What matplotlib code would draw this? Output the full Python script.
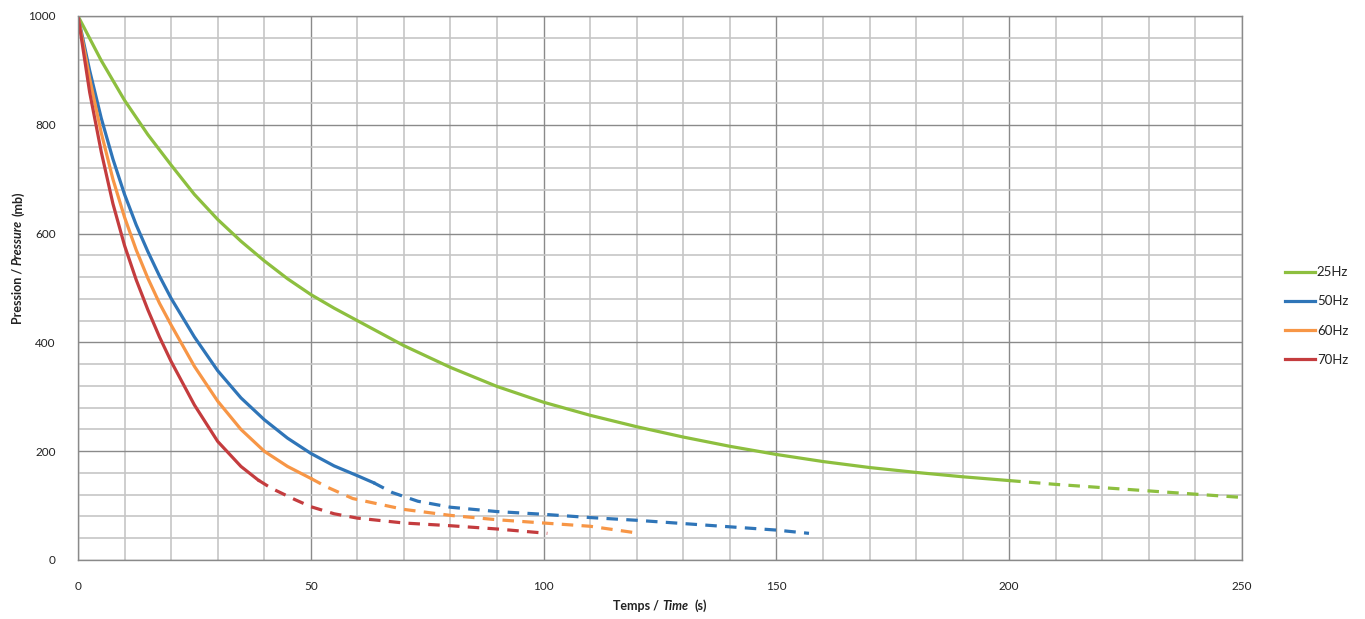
import matplotlib
matplotlib.use("Agg")
import matplotlib.pyplot as plt
from matplotlib.ticker import MultipleLocator
from matplotlib.transforms import IdentityTransform

plt.rcParams['font.family'] = ['Lato', 'DejaVu Sans']

# 25Hz : mesure (trait plein) puis extrapolation (tirets)
t_25 = [0, 5, 10, 15, 20, 25, 30, 35, 40, 45, 50, 55, 60, 70, 80, 90, 100,
        110, 120, 130, 140, 150, 160, 170, 180, 190, 200]
p_25 = [1000, 918, 845, 782, 726, 672, 626, 586, 550, 517, 488, 463, 440, 394, 354, 319, 290,
        266, 245, 226, 209, 194, 181, 170, 161, 153, 146]
t_25_ext = [200, 210, 220, 230, 240, 250]
p_25_ext = [146, 139, 133, 127, 121, 115]

# 50Hz
t_50 = [0, 2.5, 5, 7.5, 10, 12.5, 15, 17.5, 20, 25, 30, 35, 40, 45, 50, 55, 60, 63.5]
p_50 = [1000, 900, 812, 737, 672, 616, 567, 522, 481, 410, 348, 298, 258, 224, 196, 173, 155, 142]
t_50_ext = [63.5, 67.5, 73, 80, 90, 100, 110, 120, 130, 140, 150, 157]
p_50_ext = [142, 124, 108, 97, 89, 84, 78, 73, 67, 61, 55, 49]

# 60Hz
t_60 = [0, 2.5, 5, 7.5, 10, 12.5, 15, 17.5, 20, 25, 30, 35, 40, 45, 50]
p_60 = [1000, 885, 785, 700, 630, 570, 518, 472, 432, 356, 292, 240, 200, 172, 150]
t_60_ext = [50, 53.5, 59, 70, 80, 90, 100, 110, 120.6]
p_60_ext = [150, 134, 113, 93, 82, 74, 68, 62, 49]

# 70Hz
t_70 = [0, 2.5, 5, 7.5, 10, 12.5, 15, 17.5, 20, 25, 30, 35, 38.7]
p_70 = [1000, 860, 750, 655, 578, 515, 460, 410, 365, 285, 218, 172, 147]
t_70_ext = [38.7, 41.5, 46.6, 50, 55, 60, 70, 80, 90, 100.8]
p_70_ext = [147, 132, 111, 98, 85, 77, 68, 63, 57, 49]

series = [
    ("25Hz", '#8dbf3f', t_25, p_25, t_25_ext, p_25_ext),
    ("50Hz", '#2f75b8', t_50, p_50, t_50_ext, p_50_ext),
    ("60Hz", '#f79646', t_60, p_60, t_60_ext, p_60_ext),
    ("70Hz", '#c43c3e', t_70, p_70, t_70_ext, p_70_ext),
]

W, H = 1365, 619
fig = plt.figure(figsize=(W / 100, H / 100), dpi=100)
ax = fig.add_axes([78 / W, 59 / H, 1164 / W, 544 / H])

for nom, couleur, t, p, te, pe in series:
    ax.plot(t, p, color=couleur, lw=2.3, label=nom, solid_joinstyle='round')
    ax.plot(te, pe, color=couleur, lw=2.3, dashes=(3.6, 2.6))

ax.set_xlim(0, 250)
ax.set_ylim(0, 1000)
ax.xaxis.set_major_locator(MultipleLocator(50))
ax.xaxis.set_minor_locator(MultipleLocator(10))
ax.yaxis.set_major_locator(MultipleLocator(200))
ax.yaxis.set_minor_locator(MultipleLocator(40))
ax.grid(which='minor', color='#c6c6c6', lw=1.2)
ax.grid(which='major', color='#8a8a8a', lw=1.0)
ax.set_axisbelow(True)
ax.tick_params(which='both', length=0, labelsize=8.5, labelcolor='#222222')
ax.tick_params(axis='x', pad=15)
ax.tick_params(axis='y', pad=16)
for s in ax.spines.values():
    s.set_color('#8a8a8a')
    s.set_linewidth(1.0)

leg = fig.legend(loc='center left', bbox_to_anchor=(1278 / W, 1 - 316 / H),
                 frameon=False, fontsize=9.5, handlelength=2.3,
                 handletextpad=0.15, labelspacing=1.3, borderpad=0)
for txt in leg.get_texts():
    txt.set_color('#222222')

# libellés avec une partie en italique
renderer = fig.canvas.get_renderer()


def texte_mixte(cx, cy, morceaux, rotation=0):
    objets = []
    longueurs = []
    for s, style, ecart in morceaux:
        t = fig.text(0, 0, s, transform=IdentityTransform(), fontsize=9,
                     fontweight='bold', fontstyle=style, color='#222222',
                     rotation=rotation, rotation_mode='anchor',
                     ha='left', va='baseline')
        bb = t.get_window_extent(renderer)
        objets.append(t)
        longueurs.append((bb.height if rotation else bb.width) + ecart)
    total = sum(longueurs)
    pos = -total / 2
    for t, lg in zip(objets, longueurs):
        if rotation:
            t.set_position((cx, cy + pos))
        else:
            t.set_position((cx + pos, cy))
        pos += lg


texte_mixte(660, H - 610, [("Temps /", 'normal', 3), ("Time", 'italic', 6), ("(s)", 'normal', 0)])
texte_mixte(22, H - 258, [("Pression /", 'normal', 3), ("Pressure", 'italic', 3), ("(mb)", 'normal', 0)],
            rotation=90)

fig.savefig("out.png", dpi=100)
